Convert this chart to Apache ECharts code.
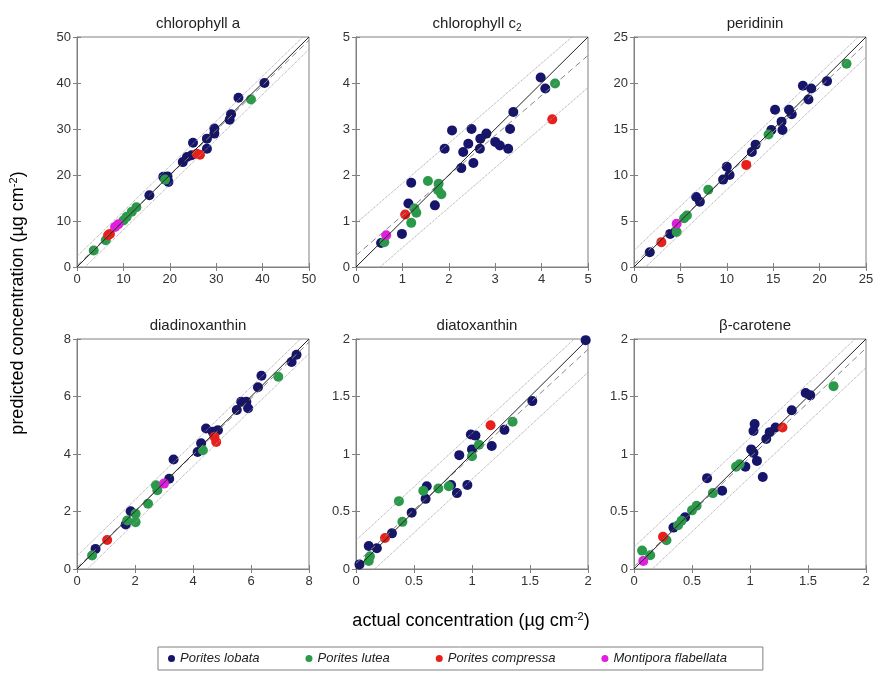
<!DOCTYPE html>
<html>
<head>
<meta charset="utf-8">
<script src="https://cdn.jsdelivr.net/npm/echarts@6/dist/echarts.min.js"></script>
<style>
  html, body { margin: 0; padding: 0; background: #fff; }
  #chart { width: 883px; height: 675px; }
</style>
</head>
<body>
<div id="chart"></div>
<script>
// panel setup
const panelTitles = ['chlorophyll a', 'chlorophyll c2', 'peridinin', 'diadinoxanthin', 'diatoxanthin', 'β-carotene'];
const axisMax = [50, 5, 25, 8, 2, 2];
const axisStep = [10, 1, 5, 2, 0.5, 0.5];
// regression line (intercept, slope) and half width of the prediction band
const fitIntercept = [0.3, 0.25, 0.3, 0.05, 0.05, 0.02];
const fitSlope = [0.98, 0.87, 0.96, 0.98, 0.93, 0.95];
const bandHalfWidth = [2, 0.7, 1.5, 0.4, 0.2, 0.17];

const speciesNames = ['Porites lobata', 'Porites lutea', 'Porites compressa', 'Montipora flabellata'];
const speciesColors = ['#16146b', '#2a9a4a', '#e8201c', '#e01ee0'];

// chlorophyll a  [actual, predicted]
const chlA_lobata = [[40.4, 40.0], [34.8, 36.8], [33.2, 33.2], [32.9, 32.0], [29.6, 30.1], [29.6, 29.0], [28.0, 27.9], [28.0, 25.7], [25.0, 27.0], [23.7, 23.9], [22.8, 22.8], [24.7, 24.3], [18.6, 19.6], [19.5, 19.7], [19.7, 18.5], [15.6, 15.6]];
const chlA_lutea = [[37.5, 36.4], [19.0, 19.0], [12.8, 13.0], [11.8, 12.0], [10.7, 10.9], [10.0, 10.1], [6.2, 5.8], [3.6, 3.6]];
const chlA_compressa = [[25.8, 24.6], [26.5, 24.4], [7.1, 7.2], [6.7, 6.9]];
const chlA_flabellata = [[8.9, 9.3], [8.2, 8.7]];

// chlorophyll c2
const chlC_lobata = [[3.98, 4.12], [4.08, 3.88], [3.39, 3.37], [3.32, 3.0], [3.28, 2.57], [3.0, 2.72], [3.1, 2.64], [2.81, 2.9], [2.68, 2.79], [2.67, 2.57], [2.49, 3.0], [2.42, 2.68], [2.31, 2.5], [2.53, 2.26], [2.27, 2.15], [2.07, 2.97], [1.91, 2.57], [1.70, 1.34], [1.19, 1.83], [1.13, 1.38], [0.99, 0.72], [0.54, 0.52]];
const chlC_lutea = [[4.29, 3.99], [1.55, 1.87], [1.78, 1.81], [1.77, 1.67], [1.84, 1.58], [1.26, 1.27], [1.30, 1.18], [1.19, 0.96], [0.61, 0.54]];
const chlC_compressa = [[4.23, 3.21], [1.06, 1.14]];
const chlC_flabellata = [[0.65, 0.69]];

// peridinin
const peri_lobata = [[20.8, 20.2], [18.2, 19.7], [19.1, 19.4], [18.8, 18.2], [15.2, 17.1], [16.7, 17.1], [17.0, 16.6], [15.9, 15.8], [16.0, 14.9], [14.8, 14.9], [13.1, 13.3], [12.7, 12.5], [10.0, 10.9], [10.3, 10.0], [9.6, 9.5], [6.7, 7.6], [7.1, 7.1], [3.9, 3.6], [1.7, 1.6]];
const peri_lutea = [[22.9, 22.1], [14.5, 14.4], [8.0, 8.4], [5.7, 5.6], [5.4, 5.3], [4.6, 3.8]];
const peri_compressa = [[12.1, 11.1], [2.95, 2.7]];
const peri_flabellata = [[4.6, 4.7]];

// diadinoxanthin
const diad_lobata = [[7.57, 7.45], [7.4, 7.2], [6.36, 6.72], [6.24, 6.32], [5.51, 5.53], [5.66, 5.82], [5.84, 5.82], [5.9, 5.59], [4.45, 4.89], [4.86, 4.83], [4.68, 4.77], [4.28, 4.37], [4.16, 4.07], [3.33, 3.81], [3.18, 3.14], [1.85, 2.01], [1.68, 1.55], [0.64, 0.70]];
const diad_lutea = [[6.94, 6.69], [4.34, 4.13], [2.72, 2.91], [2.77, 2.74], [2.45, 2.27], [2.02, 1.92], [1.73, 1.69], [2.02, 1.63], [0.52, 0.47]];
const diad_compressa = [[4.74, 4.6], [4.8, 4.42], [1.04, 1.01]];
const diad_flabellata = [[3.0, 2.97]];

// diatoxanthin
const diat_lobata = [[1.98, 1.99], [1.52, 1.46], [1.28, 1.21], [1.17, 1.07], [0.99, 1.17], [1.03, 1.16], [1.00, 1.04], [0.89, 0.99], [0.96, 0.73], [0.87, 0.66], [0.82, 0.73], [0.61, 0.72], [0.60, 0.61], [0.48, 0.49], [0.31, 0.31], [0.11, 0.20], [0.18, 0.18], [0.03, 0.04]];
const diat_lutea = [[1.35, 1.28], [1.06, 1.08], [1.00, 0.98], [0.80, 0.72], [0.71, 0.70], [0.58, 0.68], [0.37, 0.59], [0.40, 0.41], [0.12, 0.11], [0.11, 0.07]];
const diat_compressa = [[1.16, 1.25], [0.25, 0.27]];
const diat_flabellata = [];

// beta-carotene
const beta_lobata = [[1.48, 1.53], [1.52, 1.51], [1.36, 1.38], [1.22, 1.23], [1.17, 1.19], [1.14, 1.13], [1.04, 1.26], [1.03, 1.20], [1.01, 1.04], [1.03, 1.01], [1.06, 0.94], [1.11, 0.80], [0.96, 0.89], [0.63, 0.79], [0.76, 0.68], [0.44, 0.45], [0.34, 0.36]];
const beta_lutea = [[1.72, 1.59], [0.88, 0.89], [0.91, 0.91], [0.68, 0.66], [0.54, 0.55], [0.50, 0.51], [0.41, 0.42], [0.38, 0.38], [0.28, 0.25], [0.07, 0.16], [0.14, 0.12]];
const beta_compressa = [[1.28, 1.23], [0.25, 0.28]];
const beta_flabellata = [[0.08, 0.07]];

const panelData = [
  [chlA_lobata, chlA_lutea, chlA_compressa, chlA_flabellata],
  [chlC_lobata, chlC_lutea, chlC_compressa, chlC_flabellata],
  [peri_lobata, peri_lutea, peri_compressa, peri_flabellata],
  [diad_lobata, diad_lutea, diad_compressa, diad_flabellata],
  [diat_lobata, diat_lutea, diat_compressa, diat_flabellata],
  [beta_lobata, beta_lutea, beta_compressa, beta_flabellata]
];

const FONT = 'Liberation Sans';
const colLeft = [77, 356, 634];
const rowTop = [37, 339];
const boxW = 232;
const boxH = 230;
const frameColor = '#808080';

const chart = echarts.init(document.getElementById('chart'));

const grids = [];
const xAxes = [];
const yAxes = [];
const series = [];
const titles = [];

panelTitles.forEach((name, i) => {
  const left = colLeft[i % 3];
  const top = rowTop[Math.floor(i / 3)];
  grids.push({ left: left, top: top, width: boxW, height: boxH, show: true, borderColor: frameColor, borderWidth: 1, backgroundColor: '#fff' });

  const base = {
    gridIndex: i, type: 'value', min: 0, max: axisMax[i], interval: axisStep[i],
    axisLine: { show: true, lineStyle: { color: frameColor, width: 1 } },
    axisTick: { show: true, inside: true, length: 4, lineStyle: { color: frameColor } },
    splitLine: { show: false }
  };
  const labels = { show: true, color: '#333', fontSize: 13, fontFamily: FONT, margin: 6 };
  xAxes.push(Object.assign({}, base, { position: 'bottom', axisLabel: labels }));
  xAxes.push(Object.assign({}, base, { position: 'top', axisLabel: { show: false } }));
  yAxes.push(Object.assign({}, base, { position: 'left', axisLabel: labels }));
  yAxes.push(Object.assign({}, base, { position: 'right', axisLabel: { show: false } }));

  const xi = i * 2;
  panelData[i].forEach((pts, s) => {
    series.push({
      name: speciesNames[s], type: 'scatter', xAxisIndex: xi, yAxisIndex: xi,
      data: pts, symbolSize: 10, itemStyle: { color: speciesColors[s], opacity: 1 }
    });
  });

  const m = axisMax[i];
  const b = fitIntercept[i];
  const k = fitSlope[i];
  const h = bandHalfWidth[i];
  const lineSeries = (data, color, type, width) => ({
    type: 'line', xAxisIndex: xi, yAxisIndex: xi, data: data, showSymbol: false, silent: true,
    clip: true, lineStyle: { color: color, type: type, width: width }, z: 3
  });
  series.push(lineSeries([[0, b + h], [m, b + h + k * m]], '#a0a0a0', 'dotted', 1));
  series.push(lineSeries([[0, b - h], [m, b - h + k * m]], '#a0a0a0', 'dotted', 1));
  series.push(lineSeries([[0, b], [m, b + k * m]], '#888', [6, 4], 1));
  series.push(lineSeries([[0, 0], [m, m]], '#222', 'solid', 1));

  const title = {
    left: left + boxW / 2, top: top - 26, textAlign: 'center',
    textStyle: { fontSize: 15, fontWeight: 'normal', color: '#222', fontFamily: FONT }
  };
  if (name === 'chlorophyll c2') {
    // subscript 2, main text kept on the same line as the other titles
    title.text = '{n|chlorophyll c}{s|2}';
    title.top = top - 28;
    title.textStyle.rich = {
      n: { fontSize: 15, color: '#222', fontFamily: FONT },
      s: { fontSize: 10, color: '#222', fontFamily: FONT, padding: [9, 0, 0, 0] }
    };
  } else {
    title.text = name;
  }
  titles.push(title);
});

const labelRich = {
  a: { fontSize: 18, color: '#222', fontFamily: FONT },
  b: { fontSize: 11, color: '#222', fontFamily: FONT, padding: [0, 0, 9, 0] }
};

const option = {
  backgroundColor: '#fff',
  animation: false,
  title: titles,
  grid: grids,
  xAxis: xAxes,
  yAxis: yAxes,
  series: series,
  legend: {
    data: speciesNames,
    left: 158, top: 647,
    orient: 'horizontal',
    icon: 'circle', itemWidth: 7, itemHeight: 7, itemGap: 46,
    padding: [5, 36, 5, 10],
    borderColor: frameColor, borderWidth: 1,
    textStyle: { fontSize: 13, fontStyle: 'italic', color: '#222', fontFamily: FONT }
  },
  graphic: [
    {
      type: 'text', x: 18, y: 303, rotation: Math.PI / 2,
      style: {
        text: '{a|predicted concentration (µg cm}{b|-2}{a|)}', rich: labelRich,
        align: 'center', verticalAlign: 'middle'
      }
    },
    {
      type: 'text', x: 471, y: 621,
      style: {
        text: '{a|actual concentration (µg cm}{b|-2}{a|)}', rich: labelRich,
        align: 'center', verticalAlign: 'middle'
      }
    }
  ]
};

chart.setOption(option);
</script>
</body>
</html>
